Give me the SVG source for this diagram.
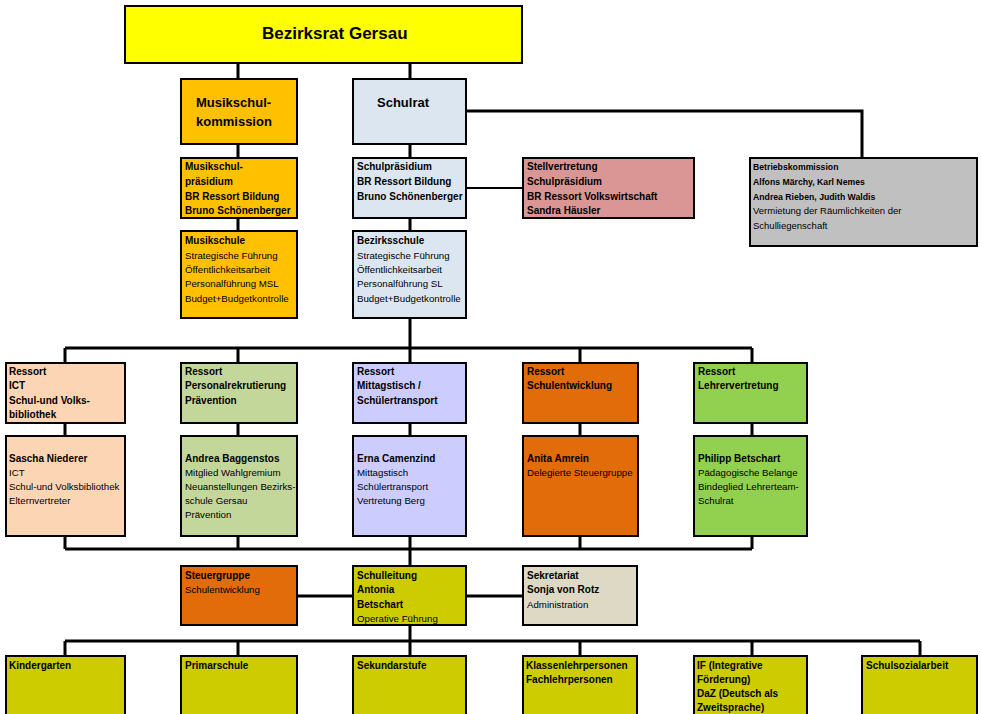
<svg xmlns="http://www.w3.org/2000/svg" width="981" height="714" viewBox="0 0 981 714">
<style>
rect.box{stroke:#000;stroke-width:2}
.b{font-family:"Liberation Sans",Arial,sans-serif;font-weight:bold;font-size:10px;fill:#000}
.r{font-family:"Liberation Sans",Arial,sans-serif;font-size:9.7px;fill:#000}
.h{font-family:"Liberation Sans",Arial,sans-serif;font-weight:bold;font-size:13px;fill:#000}
.cb{font-family:"Liberation Sans",Arial,sans-serif;font-weight:bold;font-size:8.7px;fill:#000}
.cr{font-family:"Liberation Sans",Arial,sans-serif;font-size:9.5px;fill:#000}
#connectors path{fill:none;stroke:#000;stroke-width:3}
</style>
<rect width="981" height="714" fill="#fff"/>
<g id="connectors">
<path d="M238,63V79M410,63V79"/>
<path d="M238,144V158M238,218V231"/>
<path d="M410,144V158M410,218V231"/>
<path d="M466,188H523" style="stroke-width:2"/>
<path d="M466,111H862V158"/>
<path d="M410,318V348M65,348H752M65,348V363M238,348V363M580,348V363M752,348V363M410,348V363"/>
<path d="M65,423V436M238,423V436M410,423V436M580,423V436M752,423V436"/>
<path d="M65,536V549M238,536V549M410,536V549M580,536V549M752,536V549M65,549H752M410,549V566"/>
<path d="M297,596H353M466,596H523"/>
<path d="M410,625V656M65,641H920M65,641V656M238,641V656M580,641V656M752,641V656M920,641V656"/>
</g>
<g id="bezirksrat"><rect class="box" x="125" y="6" width="397" height="57" fill="#ffff00"/><text x="262" y="39" style="font-family:'Liberation Sans',Arial,sans-serif;font-weight:bold;font-size:17px">Bezirksrat Gersau</text></g>
<g id="musikschulkommission"><rect class="box" x="181" y="79" width="116" height="65" fill="#ffc000"/><text class="h" x="196" y="107">Musikschul-</text><text class="h" x="196" y="126">kommission</text></g>
<g id="schulrat"><rect class="box" x="353" y="79" width="113" height="65" fill="#dce6f1"/><text class="h" x="377" y="107">Schulrat</text></g>
<g id="betriebskommission"><rect class="box" x="750" y="158" width="227" height="88" fill="#c0c0c0"/>
<text class="cb" x="753" y="170">Betriebskommission</text><text class="cb" x="753" y="185">Alfons Märchy, Karl Nemes</text><text class="cb" x="753" y="200">Andrea Rieben, Judith Waldis</text><text class="cr" x="753" y="214">Vermietung der Räumlichkeiten der</text><text class="cr" x="753" y="229">Schulliegenschaft</text></g>
<g id="musikschulpraesidium"><rect class="box" x="181" y="158" width="116" height="60" fill="#ffc000"/>
<text class="b" x="185" y="170">Musikschul-</text><text class="b" x="185" y="185">präsidium</text><text class="b" x="185" y="200">BR Ressort Bildung</text><text class="b" x="185" y="214">Bruno Schönenberger</text></g>
<g id="schulpraesidium"><rect class="box" x="353" y="158" width="113" height="60" fill="#dce6f1"/>
<text class="b" x="357" y="170">Schulpräsidium</text><text class="b" x="357" y="185">BR Ressort Bildung</text><text class="b" x="357" y="200">Bruno Schönenberger</text></g>
<g id="stellvertretung"><rect class="box" x="523" y="158" width="171" height="60" fill="#da9694"/>
<text class="b" x="527" y="170" fill="#2a1414">Stellvertretung</text><text class="b" x="527" y="185">Schulpräsidium</text><text class="b" x="527" y="200">BR Ressort Volkswirtschaft</text><text class="b" x="527" y="214">Sandra Häusler</text></g>
<g id="musikschule"><rect class="box" x="181" y="231" width="116" height="87" fill="#ffc000"/>
<text class="b" x="185" y="244">Musikschule</text><text class="r" x="185" y="259">Strategische Führung</text><text class="r" x="185" y="273">Öffentlichkeitsarbeit</text><text class="r" x="185" y="287">Personalführung MSL</text><text class="r" x="185" y="302">Budget+Budgetkontrolle</text></g>
<g id="bezirksschule"><rect class="box" x="353" y="231" width="113" height="87" fill="#dce6f1"/>
<text class="b" x="357" y="244">Bezirksschule</text><text class="r" x="357" y="259">Strategische Führung</text><text class="r" x="357" y="273">Öffentlichkeitsarbeit</text><text class="r" x="357" y="287">Personalführung SL</text><text class="r" x="357" y="302">Budget+Budgetkontrolle</text></g>
<g id="ressort-ict"><rect class="box" x="6" y="363" width="119" height="60" fill="#fcd5b4"/>
<text class="b" x="9" y="375">Ressort</text><text class="b" x="9" y="389">ICT</text><text class="b" x="9" y="404">Schul-und Volks-</text><text class="b" x="9" y="418">bibliothek</text></g>
<g id="ressort-personal"><rect class="box" x="181" y="363" width="116" height="60" fill="#c4d79b"/>
<text class="b" x="185" y="375">Ressort</text><text class="b" x="185" y="389">Personalrekrutierung</text><text class="b" x="185" y="404">Prävention</text></g>
<g id="ressort-mittagstisch"><rect class="box" x="353" y="363" width="113" height="60" fill="#ccccff"/>
<text class="b" x="357" y="375">Ressort</text><text class="b" x="357" y="389">Mittagstisch /</text><text class="b" x="357" y="404">Schülertransport</text></g>
<g id="ressort-schulentwicklung"><rect class="box" x="523" y="363" width="115" height="60" fill="#e26b0a"/>
<text class="b" x="527" y="375">Ressort</text><text class="b" x="527" y="389">Schulentwicklung</text></g>
<g id="ressort-lehrervertretung"><rect class="box" x="694" y="363" width="113" height="60" fill="#92d050"/>
<text class="b" x="698" y="375">Ressort</text><text class="b" x="698" y="389">Lehrervertretung</text></g>
<g id="niederer"><rect class="box" x="6" y="436" width="119" height="100" fill="#fcd5b4"/>
<text class="b" x="9" y="462">Sascha Niederer</text><text class="r" x="9" y="476">ICT</text><text class="r" x="9" y="490">Schul-und Volksbibliothek</text><text class="r" x="9" y="504">Elternvertreter</text></g>
<g id="baggenstos"><rect class="box" x="181" y="436" width="116" height="100" fill="#c4d79b"/>
<text class="b" x="185" y="462">Andrea Baggenstos</text><text class="r" x="185" y="476">Mitglied Wahlgremium</text><text class="r" x="185" y="490">Neuanstellungen Bezirks-</text><text class="r" x="185" y="504">schule Gersau</text><text class="r" x="185" y="518">Prävention</text></g>
<g id="camenzind"><rect class="box" x="353" y="436" width="113" height="100" fill="#ccccff"/>
<text class="b" x="357" y="462">Erna Camenzind</text><text class="r" x="357" y="476">Mittagstisch</text><text class="r" x="357" y="490">Schülertransport</text><text class="r" x="357" y="504">Vertretung Berg</text></g>
<g id="amrein"><rect class="box" x="523" y="436" width="115" height="100" fill="#e26b0a"/>
<text class="b" x="527" y="462">Anita Amrein</text><text class="r" x="527" y="476">Delegierte Steuergruppe</text></g>
<g id="betschart"><rect class="box" x="694" y="436" width="113" height="100" fill="#92d050"/>
<text class="b" x="698" y="462">Philipp Betschart</text><text class="r" x="698" y="476">Pädagogische Belange</text><text class="r" x="698" y="490">Bindeglied Lehrerteam-</text><text class="r" x="698" y="504">Schulrat</text></g>
<g id="steuergruppe"><rect class="box" x="181" y="566" width="116" height="59" fill="#e26b0a"/>
<text class="b" x="185" y="579">Steuergruppe</text><text class="r" x="185" y="593">Schulentwicklung</text></g>
<g id="schulleitung"><rect class="box" x="353" y="566" width="113" height="59" fill="#cccc00"/>
<text class="b" x="357" y="579">Schulleitung</text><text class="b" x="357" y="593">Antonia</text><text class="b" x="357" y="608">Betschart</text><text class="r" x="357" y="622">Operative Führung</text></g>
<g id="sekretariat"><rect class="box" x="523" y="566" width="114" height="59" fill="#ddd9c4"/>
<text class="b" x="527" y="579">Sekretariat</text><text class="b" x="527" y="593">Sonja von Rotz</text><text class="r" x="527" y="608">Administration</text></g>
<g id="kindergarten"><rect class="box" x="6" y="656" width="119" height="70" fill="#cccc00"/><text class="b" x="9" y="669">Kindergarten</text></g>
<g id="primarschule"><rect class="box" x="181" y="656" width="116" height="70" fill="#cccc00"/><text class="b" x="185" y="669">Primarschule</text></g>
<g id="sekundarstufe"><rect class="box" x="353" y="656" width="113" height="70" fill="#cccc00"/><text class="b" x="357" y="669">Sekundarstufe</text></g>
<g id="lehrpersonen"><rect class="box" x="523" y="656" width="114" height="70" fill="#cccc00"/><text class="b" x="526" y="669">Klassenlehrpersonen</text><text class="b" x="526" y="683">Fachlehrpersonen</text></g>
<g id="if-daz"><rect class="box" x="694" y="656" width="113" height="70" fill="#cccc00"/><text class="b" x="697" y="669">IF (Integrative</text><text class="b" x="697" y="683">Förderung)</text><text class="b" x="697" y="697">DaZ (Deutsch als</text><text class="b" x="697" y="711">Zweitsprache)</text></g>
<g id="schulsozialarbeit"><rect class="box" x="862" y="656" width="115" height="70" fill="#cccc00"/><text class="b" x="866" y="669">Schulsozialarbeit</text></g>
</svg>
